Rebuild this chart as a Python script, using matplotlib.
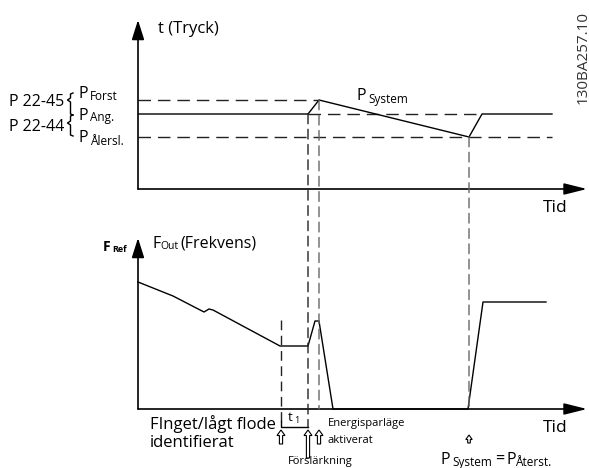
import matplotlib
matplotlib.use("Agg")
import matplotlib.pyplot as plt
from matplotlib.patches import ConnectionPatch

plt.rcParams['font.family'] = ['Open Sans', 'DejaVu Sans']

# pressure diagram (time units ~ px from the y axis)
t_press = [0, 170, 181, 331, 344, 414]
p_system = [75, 75, 89, 52, 75, 75]
P_FORST = 89
P_ANG = 75
P_ALERSL = 52
T_END = 414

# frequency diagram
t_freq = [0, 35, 66, 71, 75, 142, 170, 177, 181, 195, 330, 345, 408]
f_out = [127, 113, 97, 100, 99, 63, 63, 88, 88, 0, 0, 107, 107]

# events
t_detect = 143   # flow low detected
t_boost = 170    # boost
t_sleep = 181    # sleep mode on
t_wake = 331     # P system = P restart
f_detect = 89

W, H = 589, 468
fig = plt.figure(figsize=(W / 100, H / 100), dpi=100)

def px_axes(x0, y0, x1, y1):
    # y0 = top pixel, y1 = bottom pixel
    return fig.add_axes([x0 / W, 1 - y1 / H, (x1 - x0) / W, (y1 - y0) / H])

ax1 = px_axes(138, 20, 587, 189)
ax2 = px_axes(138, 238, 587, 409)
cv = fig.add_axes([0, 0, 1, 1], zorder=-1)
cv.set_xlim(0, W)
cv.set_ylim(H, 0)
cv.axis('off')

ax1.set_xlim(0, 449)
ax1.set_ylim(0, 169)
ax2.set_xlim(0, 449)
ax2.set_ylim(0, 171)
for ax in (ax1, ax2):
    ax.set_axis_off()
    ax.patch.set_alpha(0)
    ax.annotate('', xy=(0, 1), xycoords='axes fraction', xytext=(0, 0),
                arrowprops=dict(arrowstyle='-|>,head_length=1.2,head_width=0.38',
                                lw=1.2, color='black', shrinkA=0, shrinkB=0))
    ax.annotate('', xy=(1, 0), xycoords='axes fraction', xytext=(0, 0),
                arrowprops=dict(arrowstyle='-|>,head_length=1.4,head_width=0.35',
                                lw=1.2, color='black', shrinkA=0, shrinkB=0))

hdash = (0, (9, 5))
vdash = (0, (7, 4))

# reference pressure levels
ax1.plot([0, t_sleep], [P_FORST, P_FORST], color='#222', lw=1, ls=hdash)
ax1.plot([0, T_END], [P_ALERSL, P_ALERSL], color='#222', lw=1, ls=hdash)
ax1.plot([t_boost, t_press[4]], [P_ANG, P_ANG], color='#222', lw=1, ls=hdash)
ax1.plot(t_press, p_system, color='black', lw=1)

# frequency curve
ax2.plot(t_freq, f_out, color='black', lw=1, clip_on=False)

# vertical event lines
ax2.plot([t_detect, t_detect], [f_detect, -12], color='#222', lw=1, ls=vdash, clip_on=False)
for t, p, fb, col in [(t_boost, P_ANG, -18, '#222'), (t_sleep, P_FORST, 0, '#666'),
                      (t_wake, P_ALERSL, 0, '#666')]:
    con = ConnectionPatch(xyA=(t, p), coordsA=ax1.transData, xyB=(t, fb), coordsB=ax2.transData,
                          color=col, lw=1, ls=vdash)
    fig.add_artist(con)

# t1 bracket
ax2.plot([t_detect, t_detect, t_boost], [-12, -18, -18], color='black', lw=1, clip_on=False)

# hollow event arrows (1 data unit ~ 1 px here)
def hollow_arrow(t, y_top, y_bot, hw=4.0, hl=5.5, tw=1.6):
    xs = [t, t + hw, t + tw, t + tw, t - tw, t - tw, t - hw, t]
    ys = [y_top, y_top - hl, y_top - hl, y_bot, y_bot, y_top - hl, y_top - hl, y_top]
    ax2.fill(xs, ys, fc='white', ec='black', lw=0.8, clip_on=False, joinstyle='miter')

hollow_arrow(t_detect, -21, -35)
hollow_arrow(t_boost, -21, -49)
hollow_arrow(t_sleep, -21, -35)
hollow_arrow(t_wake, -26, -34, hw=3.2, hl=4.5, tw=1.3)

# braces
cv.plot([73, 70.5, 70.5, 67.5, 70.5, 70.5, 73], [93, 94, 98, 100, 102, 114, 115], color='black', lw=1)
cv.plot([73, 70.5, 70.5, 67.5, 70.5, 70.5, 73], [115, 116, 121, 123, 125, 135, 136], color='black', lw=1)

def txt(x, y, s, size, **kw):
    cv.text(x, y, s, fontsize=size, va='baseline', **kw)

txt(158, 33, 't (Tryck)', 12)
txt(9, 106, 'P 22-45', 11.5)
txt(9, 131, 'P 22-44', 11.5)
txt(78, 98, 'P', 11.5)
txt(90, 100, 'Forst', 8.5)
txt(78, 120, 'P', 11.5)
txt(90, 121, 'Ang.', 8.5)
txt(78, 142, 'P', 11.5)
txt(90, 145, 'Ålersl.', 8.5)
txt(357, 100, 'P', 11.5)
txt(368, 103, 'System', 8.5)
txt(543, 212, 'Tid', 12.5)
txt(543, 432, 'Tid', 12.5)

txt(103, 251, 'F', 10, fontweight='bold')
txt(112, 252, 'Ref', 6.5, fontweight='bold')
txt(152, 248, 'F', 11.5)
txt(160, 249, 'Out', 7.5)
txt(180, 248, '(Frekvens)', 11.5)

txt(150, 429, 'FInget/lågt flode', 12)
txt(150, 447, 'identifierat', 12)
txt(288, 421, 't', 9.5)
txt(294, 423, '1', 6.5)
txt(328, 426, 'Energisparläge', 8)
txt(328, 443, 'aktiverat', 8)
txt(320, 464, 'Förslärkning', 8, ha='center')

txt(441, 464, 'P', 11.5)
txt(452, 466, 'System', 8.5)
txt(495, 464, '=', 11.5)
txt(506, 464, 'P', 11.5)
txt(515, 466, 'Återst.', 8.5)

cv.text(583, 58, '130BA257.10', fontsize=11, rotation=90, ha='center', va='center', color='#333')

fig.savefig('out.png', dpi=100)
